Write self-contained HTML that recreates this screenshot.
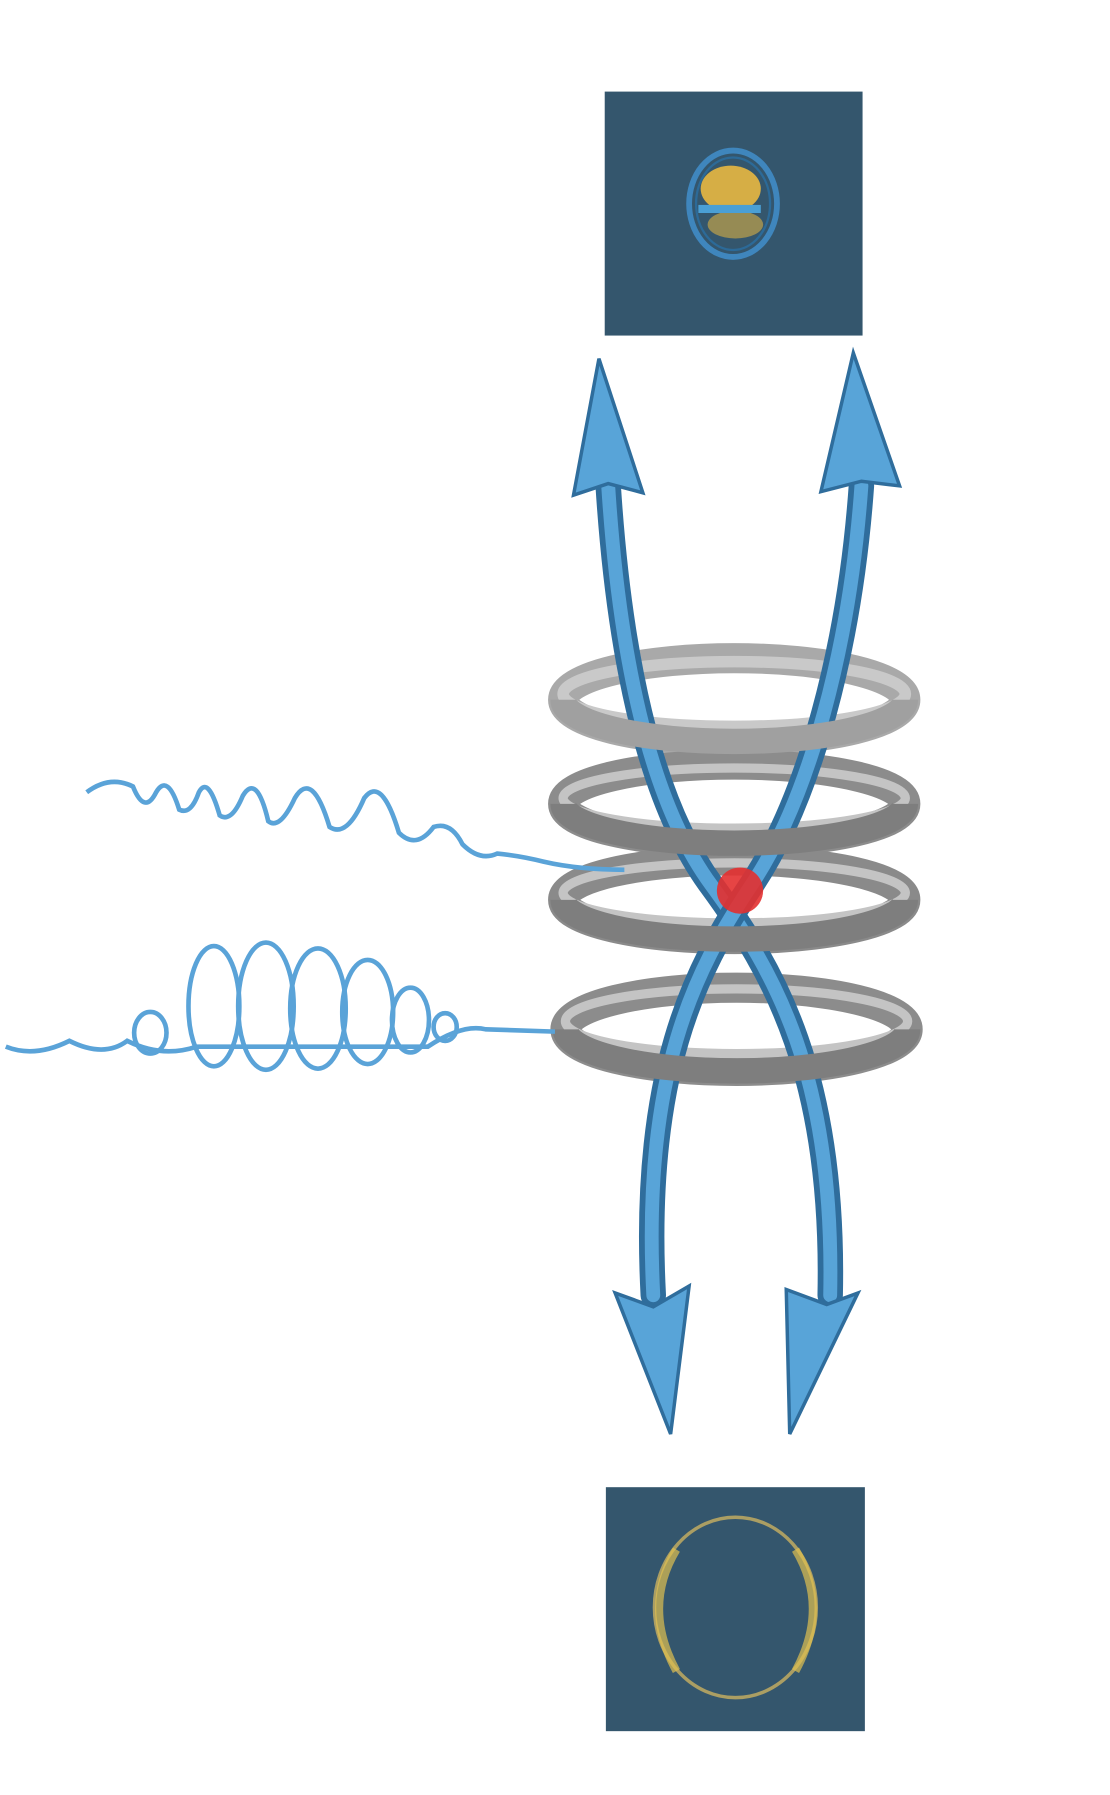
<!DOCTYPE html>
<html><head><meta charset="utf-8"><style>html,body{margin:0;padding:0;background:#fff}svg{display:block}</style></head>
<body>
<svg width="1110" height="1795" viewBox="0 0 960 1552" xmlns="http://www.w3.org/2000/svg">
<rect width="960" height="1552" fill="#fff"/>
<!-- boxes -->
<rect x="523" y="79" width="223" height="211" fill="#34566d"/>
<ellipse cx="634" cy="176" rx="38" ry="46" fill="none" stroke="#3f86bd" stroke-width="5"/>
<ellipse cx="634" cy="176" rx="32" ry="40" fill="none" stroke="#2c6a98" stroke-width="2"/>
<ellipse cx="632" cy="163" rx="26" ry="20" fill="#e8b840" opacity="0.9"/>
<ellipse cx="636" cy="194" rx="24" ry="12" fill="#e8b840" opacity="0.55"/>
<rect x="604" y="177" width="54" height="7" fill="#4a9fd5"/>
<rect x="524" y="1286" width="224" height="211" fill="#34566d"/>
<ellipse cx="636" cy="1390" rx="70" ry="78" fill="none" stroke="#c9b060" stroke-width="3" opacity="0.8"/>
<path d="M585 1340 Q555 1390 585 1445" fill="none" stroke="#e0c050" stroke-width="7" opacity="0.7"/>
<path d="M688 1340 Q718 1390 688 1445" fill="none" stroke="#e0c050" stroke-width="7" opacity="0.7"/>
<!-- rings (back) -->
<g fill="none">
<ellipse cx="635" cy="605" rx="148" ry="36" stroke="#a9a9a9" stroke-width="26"/>
<ellipse cx="635" cy="695" rx="148" ry="34" stroke="#8c8c8c" stroke-width="26"/>
<ellipse cx="635" cy="778" rx="148" ry="34" stroke="#8a8a8a" stroke-width="26"/>
<ellipse cx="637" cy="890" rx="148" ry="36" stroke="#8c8c8c" stroke-width="26"/>
<ellipse cx="635" cy="600" rx="148" ry="28" stroke="#c9c9c9" stroke-width="10"/>
<ellipse cx="635" cy="690" rx="148" ry="26" stroke="#c4c4c4" stroke-width="8"/>
<ellipse cx="635" cy="772" rx="148" ry="26" stroke="#c4c4c4" stroke-width="8"/>
<ellipse cx="637" cy="883" rx="148" ry="28" stroke="#c4c4c4" stroke-width="8"/>
</g>
<!-- arrows -->
<g fill="none" stroke-linecap="round">
<path d="M526 420 C535 560 560 690 615 765 C670 840 722 930 718 1120" stroke="#2f6d9c" stroke-width="22"/>
<path d="M526 420 C535 560 560 690 615 765 C670 840 722 930 718 1120" stroke="#58a4d8" stroke-width="12"/>
<path d="M745 420 C735 560 700 690 650 765 C600 840 555 930 565 1120" stroke="#2f6d9c" stroke-width="22"/>
<path d="M745 420 C735 560 700 690 650 765 C600 840 555 930 565 1120" stroke="#58a4d8" stroke-width="12"/>
</g>
<polygon points="518,310 496,428 526,418 556,426" fill="#58a4d8" stroke="#2f6d9c" stroke-width="3"/>
<polygon points="738,305 710,425 745,416 778,420" fill="#58a4d8" stroke="#2f6d9c" stroke-width="3"/>
<polygon points="580,1240 532,1118 565,1130 596,1112" fill="#58a4d8" stroke="#2f6d9c" stroke-width="3"/>
<polygon points="683,1240 680,1115 715,1128 742,1118" fill="#58a4d8" stroke="#2f6d9c" stroke-width="3"/>
<!-- red dot -->
<circle cx="640" cy="770" r="20" fill="#e33030" opacity="0.9"/>
<!-- front ring halves -->
<g fill="none">
<path d="M487 605 A148 36 0 0 0 783 605" stroke="#a0a0a0" stroke-width="22"/>
<path d="M487 695 A148 34 0 0 0 783 695" stroke="#7e7e7e" stroke-width="22"/>
<path d="M487 778 A148 34 0 0 0 783 778" stroke="#7e7e7e" stroke-width="22"/>
<path d="M489 890 A148 36 0 0 0 785 890" stroke="#7e7e7e" stroke-width="22"/>
</g>
<!-- wavy line -->
<path d="M75 685 Q95 670 115 680 Q125 705 135 685 Q145 668 155 700 Q165 705 172 685 Q180 670 190 705 Q200 712 210 688 Q222 668 232 710 Q242 718 255 690 Q270 665 285 715 Q300 725 315 690 Q330 670 345 720 Q360 735 375 715 Q390 710 400 730 Q415 745 430 738 Q450 740 470 745 Q500 752 540 752" fill="none" stroke="#5aa3d8" stroke-width="4"/>
<!-- loopy line -->
<g fill="none" stroke="#5aa3d8" stroke-width="4">
<path d="M5 905 Q30 915 60 900 Q90 915 110 900 Q140 915 170 905 L370 905 Q400 885 420 890 L480 892"/>
<ellipse cx="130" cy="893" rx="14" ry="18"/>
<ellipse cx="185" cy="870" rx="22" ry="52"/>
<ellipse cx="230" cy="870" rx="24" ry="55"/>
<ellipse cx="275" cy="872" rx="24" ry="52"/>
<ellipse cx="318" cy="875" rx="22" ry="45"/>
<ellipse cx="355" cy="882" rx="16" ry="28"/>
<ellipse cx="385" cy="888" rx="10" ry="12"/>
</g>
</svg>
</body></html>
